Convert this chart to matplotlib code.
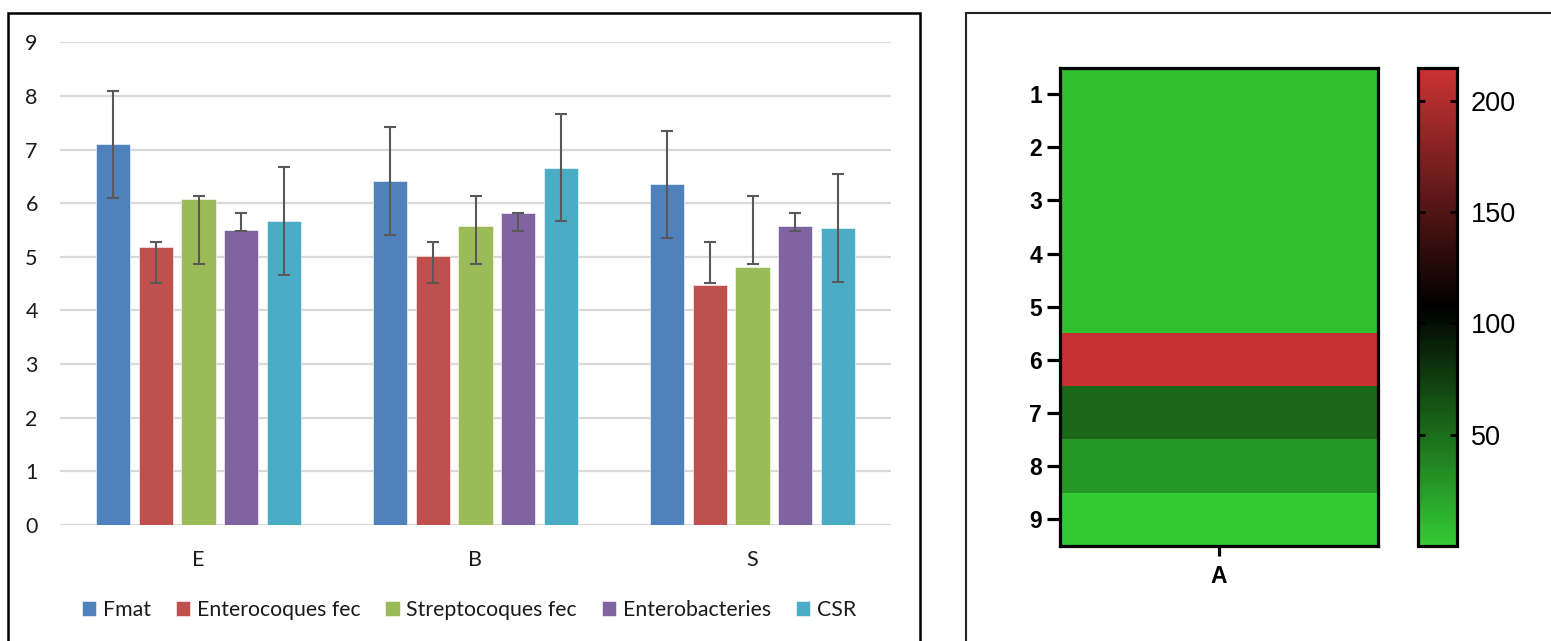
import matplotlib
matplotlib.use("Agg")
import matplotlib.pyplot as plt
import numpy as np
from matplotlib.colors import LinearSegmentedColormap
from matplotlib.patches import Rectangle

# ---------------- data ----------------
categories = ["E", "B", "S"]
series = ["Fmat", "Enterocoques fec", "Streptocoques fec", "Enterobacteries", "CSR"]
values = {
    "Fmat":              [7.10, 6.41, 6.35],
    "Enterocoques fec":  [5.18, 5.02, 4.47],
    "Streptocoques fec": [6.08, 5.57, 4.81],
    "Enterobacteries":   [5.50, 5.82, 5.58],
    "CSR":               [5.66, 6.66, 5.53],
}
err_low = {
    "Fmat":              [6.10, 5.41, 5.35],
    "Enterocoques fec":  [4.52, 4.52, 4.52],
    "Streptocoques fec": [4.86, 4.86, 4.86],
    "Enterobacteries":   [5.48, 5.48, 5.48],
    "CSR":               [4.66, 5.67, 4.53],
}
err_high = {
    "Fmat":              [8.10, 7.42, 7.35],
    "Enterocoques fec":  [5.28, 5.28, 5.28],
    "Streptocoques fec": [6.14, 6.14, 6.14],
    "Enterobacteries":   [5.81, 5.81, 5.81],
    "CSR":               [6.67, 7.67, 6.54],
}
colors = ["#4F81BD", "#C0504D", "#9BBB59", "#8064A2", "#4BACC6"]
y_ticks = list(range(0, 10))

heat_rows = ["1", "2", "3", "4", "5", "6", "7", "8", "9"]
heat_cols = ["A"]
heat_values = [7, 7, 7, 7, 7, 212, 53, 28, 1]
cbar_ticks = [50, 100, 150, 200]
heat_vmin, heat_vmax = 0, 215

# ---------------- figure ----------------
W, H = 1551, 641
fig = plt.figure(figsize=(W / 100, H / 100), dpi=100)

def fx(px):
    return px / W

def fy(py):
    return (H - py) / H

# frames
fig.patches.append(Rectangle((fx(8), -0.05), fx(920) - fx(8), fy(13) + 0.05,
                             transform=fig.transFigure, fill=False,
                             edgecolor="black", linewidth=1.8, zorder=0))
fig.patches.append(Rectangle((fx(966), -0.05), 0.6, fy(13) + 0.05,
                             transform=fig.transFigure, fill=False,
                             edgecolor="#222222", linewidth=1.5, zorder=0))

# ---------------- bar chart ----------------
font_bar = "Lato"
txt_col = "#1a1a1a"
ax = fig.add_axes([fx(60), fy(525), fx(891) - fx(60), fy(42.3) - fy(525)])
x = np.arange(len(categories))
slot = 0.1535
bw = 0.123
for i, s in enumerate(series):
    xs = x + (i - 2) * slot
    v = np.array(values[s])
    lo = np.array(err_low[s])
    hi = np.array(err_high[s])
    ax.bar(xs, v, width=bw, color=colors[i], label=s, zorder=2,
           edgecolor="white", linewidth=0.4)
    mid = (lo + hi) / 2
    half = (hi - lo) / 2
    ax.errorbar(xs, mid, yerr=half, fmt="none", ecolor="#595959",
                elinewidth=1.5, capsize=4.3, capthick=1.5, zorder=3)

ax.set_xlim(-0.5, 2.5)
ax.set_ylim(0, 9)
ax.set_yticks(y_ticks)
ax.yaxis.grid(True, color="#d9d9d9", linewidth=1.6, zorder=0)
ax.set_axisbelow(True)
for sp in ax.spines.values():
    sp.set_visible(False)
ax.set_xticks(x)
ax.set_xticklabels(categories)
ax.tick_params(axis="both", length=0, labelsize=15.5, labelcolor=txt_col)
ax.tick_params(axis="y", pad=16)
ax.tick_params(axis="x", pad=18)
for lab in ax.get_xticklabels() + ax.get_yticklabels():
    lab.set_fontfamily(font_bar)

leg = fig.legend(loc="center", bbox_to_anchor=(fx(469), fy(610)), ncol=5,
                 frameon=False, handlelength=0.68, handleheight=0.68,
                 handletextpad=0.3, columnspacing=1.18,
                 prop={"family": font_bar, "size": 15.3})
for t in leg.get_texts():
    t.set_color(txt_col)

# ---------------- heatmap ----------------
cmap = LinearSegmentedColormap.from_list(
    "gbr", [(0.0, (0.20, 0.80, 0.20)), (0.5, (0.0, 0.0, 0.0)), (1.0, (0.80, 0.20, 0.20))])

hax = fig.add_axes([fx(1060), fy(546), fx(1378) - fx(1060), fy(67.5) - fy(546)])
data = np.array(heat_values, dtype=float).reshape(-1, 1)
im = hax.imshow(data, cmap=cmap, vmin=heat_vmin, vmax=heat_vmax, aspect="auto",
                interpolation="nearest", extent=(-0.5, 0.5, len(heat_rows) - 0.5, -0.5))
hax.set_yticks(range(len(heat_rows)))
hax.set_yticklabels(heat_rows)
hax.set_xticks([0])
hax.set_xticklabels(heat_cols)
for sp in hax.spines.values():
    sp.set_linewidth(2.3)
hax.tick_params(axis="y", length=9.5, width=2.3, pad=3.5)
hax.tick_params(axis="x", length=7.5, width=2.3, pad=6)
for lab in hax.get_xticklabels() + hax.get_yticklabels():
    lab.set_fontfamily("Liberation Sans")
    lab.set_fontweight("bold")
    lab.set_fontsize(16.5)

cax = fig.add_axes([fx(1418), fy(546), fx(1457) - fx(1418), fy(67.5) - fy(546)])
cb = fig.colorbar(im, cax=cax, ticks=cbar_ticks)
cb.outline.set_linewidth(2.3)
cax.tick_params(direction="in", left=True, right=True, length=5, width=2,
                labelsize=19.5, pad=10)
for lab in cax.get_yticklabels():
    lab.set_fontfamily("Liberation Sans")

fig.savefig("out.png", dpi=100)
